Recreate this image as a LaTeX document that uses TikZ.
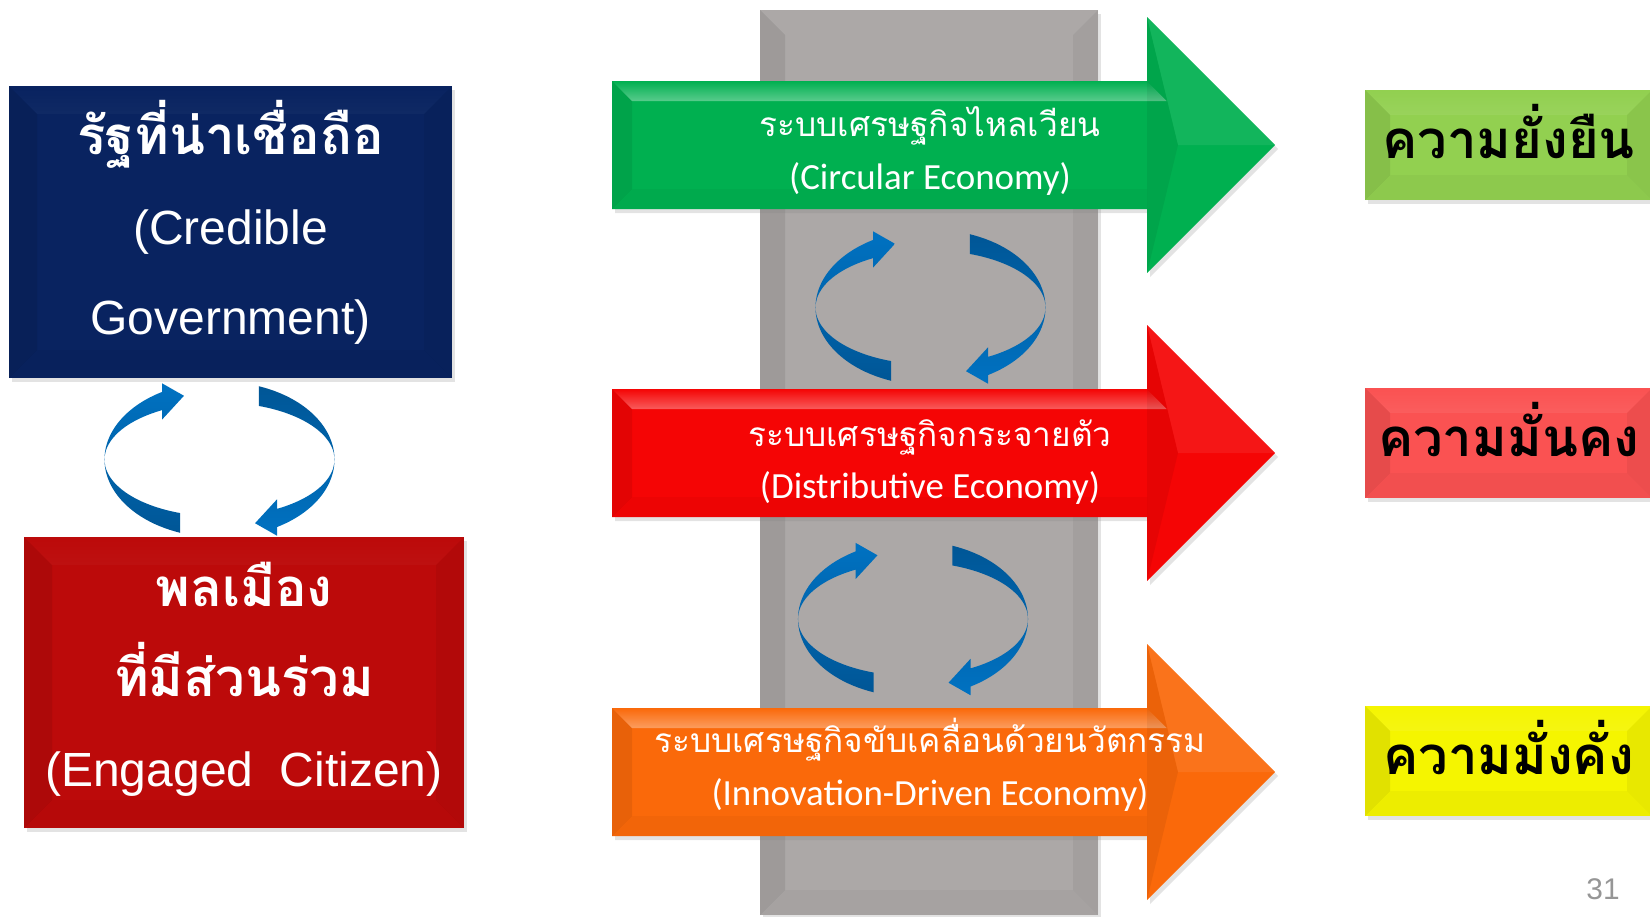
\documentclass[tikz,border=0pt]{standalone}
\usepackage{fontspec}
\setmainfont{Liberation Sans}
\newfontfamily\thaifont[Script=Thai]{Loma}
\newfontfamily\califont{Carlito}
\usetikzlibrary{calc,shadows,fadings}

\definecolor{govblue}{RGB}{9,35,96}
\definecolor{citred}{RGB}{188,10,10}
\definecolor{pillargray}{RGB}{172,168,167}
\definecolor{circgreen}{RGB}{0,176,80}
\definecolor{distred}{RGB}{245,5,5}
\definecolor{innoorange}{RGB}{250,105,10}
\definecolor{sustgreen}{RGB}{146,208,80}
\definecolor{secred}{RGB}{250,82,82}
\definecolor{wealthyellow}{RGB}{245,245,0}
\definecolor{cycblue}{RGB}{0,114,194}
\definecolor{cycdark}{RGB}{0,86,150}
\definecolor{pagegray}{RGB}{150,150,150}

\newcommand{\pu}{0.2mm}

% two bent arrows chasing each other round a centre
\newcommand{\cyclepair}[1]{%
  \shade[top color=cycblue, bottom color=cycdark]
    ($(#1)+(110:115 and 78)$) arc[start angle=110, end angle=240, x radius=115, y radius=78]
    -- ($(#1)+(240:115 and 88)$) -- ($(#1)+(252:115 and 67)$) -- ($(#1)+(240:115 and 46)$)
    -- ($(#1)+(240:115 and 57)$) arc[start angle=240, end angle=110, x radius=115, y radius=57] -- cycle;
  \shade[top color=cycdark, bottom color=cycblue]
    ($(#1)+(290:115 and 78)$) arc[start angle=290, end angle=420, x radius=115, y radius=78]
    -- ($(#1)+(420:115 and 88)$) -- ($(#1)+(432:115 and 67)$) -- ($(#1)+(420:115 and 46)$)
    -- ($(#1)+(420:115 and 57)$) arc[start angle=420, end angle=290, x radius=115, y radius=57] -- cycle;
}

\tikzset{
  bevel/.style={path picture={
    \fill[white, opacity=0.3, path fading=north] (path picture bounding box.north west) -- (path picture bounding box.north east)
      -- ++(-#1,-#1) -- ([shift={(#1,-#1)}]path picture bounding box.north west) -- cycle;
    \fill[black, opacity=0.08] (path picture bounding box.north west) -- ++(#1,-#1)
      -- ([shift={(#1,#1)}]path picture bounding box.south west) -- (path picture bounding box.south west) -- cycle;
    \fill[black, opacity=0.05] (path picture bounding box.north east) -- ++(-#1,-#1)
      -- ([shift={(-#1,#1)}]path picture bounding box.south east) -- (path picture bounding box.south east) -- cycle;
    \fill[black, opacity=0.03] (path picture bounding box.south west) -- ++(#1,#1)
      -- ([shift={(-#1,#1)}]path picture bounding box.south east) -- (path picture bounding box.south east) -- cycle;
  }},
  boxshadow/.style={drop shadow={opacity=0.22, shadow xshift=0.6mm, shadow yshift=-0.8mm}},
  sidebox/.style={rectangle, inner sep=0pt, bevel=5.6mm, boxshadow},
  sidetext/.style={text=white, align=center, font=\fontsize{27.3}{51.2}\selectfont},
  goalbox/.style={rectangle, inner sep=0pt, bevel=5mm, boxshadow, minimum width=287*\pu,
    minimum height=110*\pu, text height=6.4mm, text depth=1.1mm,
    font=\thaifont\bfseries\fontsize{30}{36}\selectfont},
  flowtext/.style={text=white, align=center, font=\fontsize{19}{30}\selectfont},
  pagenum/.style={text=pagegray, font=\fontsize{17}{20}\selectfont}
}

\begin{document}
\begin{tikzpicture}[x=\pu, y=-\pu]
  \useasboundingbox (0,0) rectangle (1650,916);
  \clip (0,0) rectangle (1650,916);

  % pillar behind the three economies
  \node[rectangle, inner sep=0pt, fill=pillargray, bevel=5mm, boxshadow,
    minimum width=338*\pu, minimum height=905*\pu] (pillar) at (929,462.5) {};

  \coordinate (cycgov) at (219.5,459.5);
  \coordinate (cycup) at (930.5,307.5);
  \coordinate (cycdown) at (913,619);
  \cyclepair{cycgov}
  \cyclepair{cycup}
  \cyclepair{cycdown}

  % big arrows
  \foreach \cy/\col in {145/circgreen, 453/distred, 772/innoorange} {
    \fill[\col, boxshadow] (612,{\cy-64}) -- (1147,{\cy-64}) -- (1147,{\cy-128}) -- (1275,\cy)
      -- (1147,{\cy+128}) -- (1147,{\cy+64}) -- (612,{\cy+64}) -- cycle;
    \fill[white, opacity=0.35, path fading=north] (612,{\cy-64}) -- (1147,{\cy-64}) -- (1167,{\cy-44}) -- (632,{\cy-44}) -- cycle;
    \fill[black, opacity=0.07] (612,{\cy-64}) -- (632,{\cy-44}) -- (632,{\cy+44}) -- (612,{\cy+64}) -- cycle;
    \fill[black, opacity=0.03] (612,{\cy+64}) -- (632,{\cy+44}) -- (1147,{\cy+44}) -- (1147,{\cy+64}) -- cycle;
    \fill[black, opacity=0.06] (1147,{\cy-128}) -- (1178,\cy) -- (1147,{\cy+128}) -- cycle;
    \fill[white, opacity=0.07] (1147,{\cy-128}) -- (1275,\cy) -- (1178,\cy) -- cycle;
  }

  \node[flowtext] (circ) at (930,151) {{\thaifont ระบบเศรษฐกิจไหลเวียน}\\{\califont\fontsize{21}{30}\selectfont (Circular Economy)}};
  \node[flowtext] (dist) at (930,462) {{\thaifont ระบบเศรษฐกิจกระจายตัว}\\{\califont\fontsize{21}{30}\selectfont (Distributive Economy)}};
  \node[flowtext] (inno) at (930,765) {{\thaifont ระบบเศรษฐกิจขับเคลื่อนด้วยนวัตกรรม}\\{\califont\fontsize{21}{30}\selectfont (Innovation-Driven Economy)}};

  % left column
  \node[sidebox, fill=govblue, minimum width=443*\pu, minimum height=292*\pu] (gov) at (230.5,232) {};
  \node[sidetext] (govtext) at (230.5,222.5)
    {{\thaifont\bfseries\fontsize{30}{36}\selectfont รัฐที่น่าเชื่อถือ}\\(Credible\\Government)};
  \node[sidebox, fill=citred, minimum width=440*\pu, minimum height=291*\pu] (cit) at (244,682.5) {};
  \node[sidetext] (cittext) at (244,679)
    {{\thaifont\bfseries\fontsize{30}{36}\selectfont พลเมือง}\\{\thaifont\bfseries\fontsize{30}{36}\selectfont ที่มีส่วนร่วม}\\(Engaged\ \ Citizen)};

  % goals on the right
  \node[goalbox, fill=sustgreen] (sust) at (1508.5,145) {ความยั่งยืน};
  \node[goalbox, fill=secred] (secu) at (1508.5,443) {ความมั่นคง};
  \node[goalbox, fill=wealthyellow] (weal) at (1508.5,761) {ความมั่งคั่ง};

  \node[pagenum] (page) at (1603,889) {31};
\end{tikzpicture}
\end{document}
